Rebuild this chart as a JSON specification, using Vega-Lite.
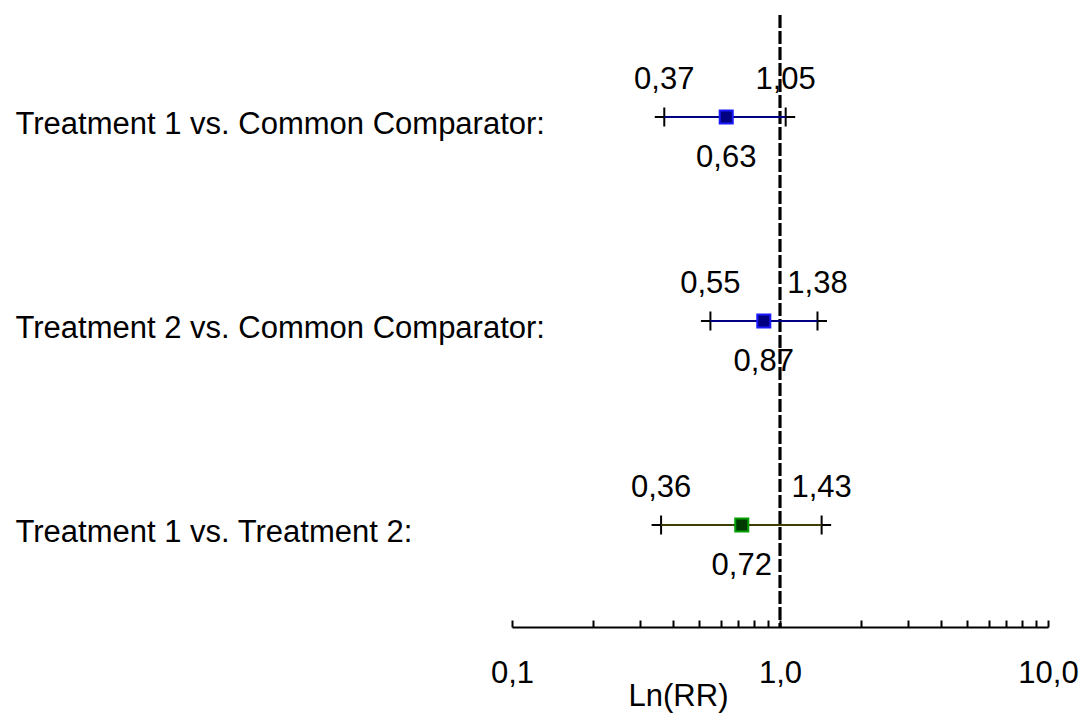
{
  "$schema": "https://vega.github.io/schema/vega-lite/v6.json",
  "autosize": "none",
  "width": 536,
  "height": 612,
  "padding": {"left": 512, "top": 15, "right": 35, "bottom": 88},
  "background": "white",
  "config": {"view": {"stroke": null}, "font": "Liberation Sans"},
  "data": {
    "values": [
      {"comp": "Treatment 1 vs. Common Comparator:", "rr": 0.63, "lo": 0.37, "hi": 1.05, "rrLabel": "0,63", "loLabel": "0,37", "hiLabel": "1,05", "grp": "common"},
      {"comp": "Treatment 2 vs. Common Comparator:", "rr": 0.87, "lo": 0.55, "hi": 1.38, "rrLabel": "0,87", "loLabel": "0,55", "hiLabel": "1,38", "grp": "common"},
      {"comp": "Treatment 1 vs. Treatment 2:", "rr": 0.72, "lo": 0.36, "hi": 1.43, "rrLabel": "0,72", "loLabel": "0,36", "hiLabel": "1,43", "grp": "indirect"}
    ]
  },
  "encoding": {
    "y": {
      "field": "comp",
      "type": "nominal",
      "sort": null,
      "scale": {"type": "point", "padding": 0.5},
      "axis": {
        "title": null,
        "domain": false,
        "ticks": false,
        "tickSize": 0,
        "grid": false,
        "labelAlign": "left",
        "labelBaseline": "alphabetic",
        "labelPadding": 497,
        "labelOffset": 16,
        "labelFontSize": 31,
        "labelColor": "black",
        "labelFont": "Liberation Sans",
        "labelLimit": 0
      }
    }
  },
  "layer": [
    {
      "mark": {"type": "rule", "strokeDash": [13, 3], "strokeWidth": 2.5, "color": "black"},
      "encoding": {
        "x": {"datum": 1, "type": "quantitative"},
        "y": null
      }
    },
    {
      "mark": {"type": "point", "shape": "M-1,0H1M0,-1V1", "size": 361, "filled": false, "stroke": "black", "strokeWidth": 2, "opacity": 1},
      "encoding": {
        "x": {
          "field": "lo",
          "type": "quantitative",
          "scale": {"type": "log", "domain": [0.1, 10], "nice": false},
          "axis": {
            "title": "Ln(RR)",
            "values": [0.1, 0.2, 0.3, 0.4, 0.5, 0.6, 0.7, 0.8, 0.9, 1, 2, 3, 4, 5, 6, 7, 8, 9, 10],
            "labelExpr": "datum.value == 0.1 ? '0,1' : datum.value == 1 ? '1,0' : datum.value == 10 ? '10,0' : ''",
            "labelOverlap": false,
            "labelFlush": false,
            "grid": false,
            "domainColor": "black",
            "domainWidth": 2,
            "tickColor": "black",
            "tickWidth": 2,
            "tickSize": -7,
            "labelPadding": 62,
            "labelBaseline": "alphabetic",
            "labelFontSize": 31,
            "labelColor": "black",
            "labelFont": "Liberation Sans",
            "titleFontSize": 31,
            "titleFontWeight": "normal",
            "titleColor": "black",
            "titleFont": "Liberation Sans",
            "titleAnchor": "start",
            "titleAlign": "center",
            "titleBaseline": "alphabetic",
            "titleX": 166,
            "titleY": 78
          }
        }
      }
    },
    {
      "mark": {"type": "point", "shape": "M-1,0H1M0,-1V1", "size": 361, "filled": false, "stroke": "black", "strokeWidth": 2, "opacity": 1},
      "encoding": {"x": {"field": "hi", "type": "quantitative"}}
    },
    {
      "mark": {"type": "rule", "strokeWidth": 2.2},
      "encoding": {
        "x": {"field": "lo", "type": "quantitative"},
        "x2": {"field": "hi"},
        "color": {
          "field": "grp",
          "type": "nominal",
          "scale": {"domain": ["common", "indirect"], "range": ["#000080", "#3d3d05"]},
          "legend": null
        }
      }
    },
    {
      "mark": {"type": "point", "shape": "square", "size": 170, "filled": true, "strokeWidth": 2, "opacity": 1},
      "encoding": {
        "x": {"field": "rr", "type": "quantitative"},
        "fill": {
          "field": "grp",
          "type": "nominal",
          "scale": {"domain": ["common", "indirect"], "range": ["#000080", "#003a00"]},
          "legend": null
        },
        "stroke": {
          "field": "grp",
          "type": "nominal",
          "scale": {"domain": ["common", "indirect"], "range": ["#1a1aff", "#00a000"]},
          "legend": null
        }
      }
    },
    {
      "mark": {"type": "text", "fontSize": 31, "baseline": "alphabetic", "align": "center", "dy": -28, "color": "black", "font": "Liberation Sans"},
      "encoding": {
        "x": {"field": "lo", "type": "quantitative"},
        "text": {"field": "loLabel"}
      }
    },
    {
      "mark": {"type": "text", "fontSize": 31, "baseline": "alphabetic", "align": "center", "dy": -28, "color": "black", "font": "Liberation Sans"},
      "encoding": {
        "x": {"field": "hi", "type": "quantitative"},
        "text": {"field": "hiLabel"}
      }
    },
    {
      "mark": {"type": "text", "fontSize": 31, "baseline": "alphabetic", "align": "center", "dy": 50, "color": "black", "font": "Liberation Sans"},
      "encoding": {
        "x": {"field": "rr", "type": "quantitative"},
        "text": {"field": "rrLabel"}
      }
    }
  ]
}
